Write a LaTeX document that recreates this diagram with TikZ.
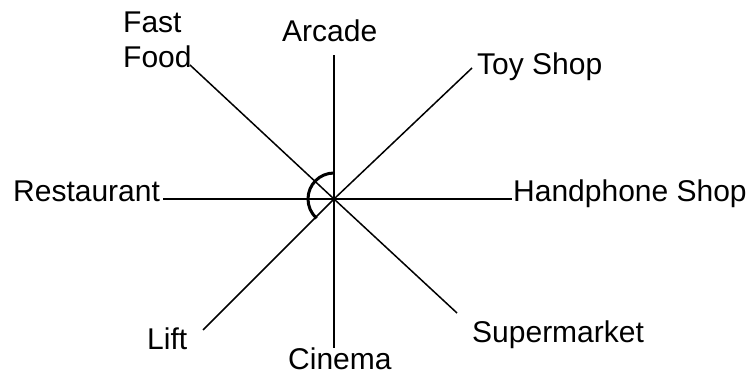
\documentclass[tikz,border=0pt]{standalone}
\usepackage{fontspec}
\setmainfont{Liberation Sans}
\begin{document}
\begin{tikzpicture}[x=1pt,y=1pt,
  lbl/.style={inner sep=0pt, anchor=base west, font=\fontsize{30}{35}\selectfont},
  spoke/.style={line width=1.5pt},
  angmark/.style={line width=3pt}]
\useasboundingbox (0,0) rectangle (753,375);
\coordinate (c) at (334,176);
% labels
\node[lbl, align=left] (ff) at (123,307) {Fast\\Food};
\node[lbl] (arc) at (282,333) {Arcade};
\node[lbl] (toy) at (477,300) {Toy Shop};
\node[lbl] (rest) at (13,173) {Restaurant};
\node[lbl] (hp) at (513,173) {Handphone Shop};
\node[lbl] (lift) at (147,25) {Lift};
\node[lbl] (cin) at (288,5) {Cinema};
\node[lbl] (sup) at (472,32) {Supermarket};
% connector ends
\coordinate (eff) at (190,310);
\coordinate (earc) at (334,320);
\coordinate (etoy) at (472,307);
\coordinate (erest) at (163,176);
\coordinate (ehp) at (512,176);
\coordinate (elift) at (203,45);
\coordinate (ecin) at (334,27);
\coordinate (esup) at (457,62);
% spokes
\foreach \e in {eff,earc,etoy,erest,ehp,elift,ecin,esup}
  \draw[spoke] (c) -- (\e);
% angle mark
\draw[angmark] (c) ++(90:26) arc[start angle=90, end angle=228, radius=26];
\end{tikzpicture}
\end{document}
